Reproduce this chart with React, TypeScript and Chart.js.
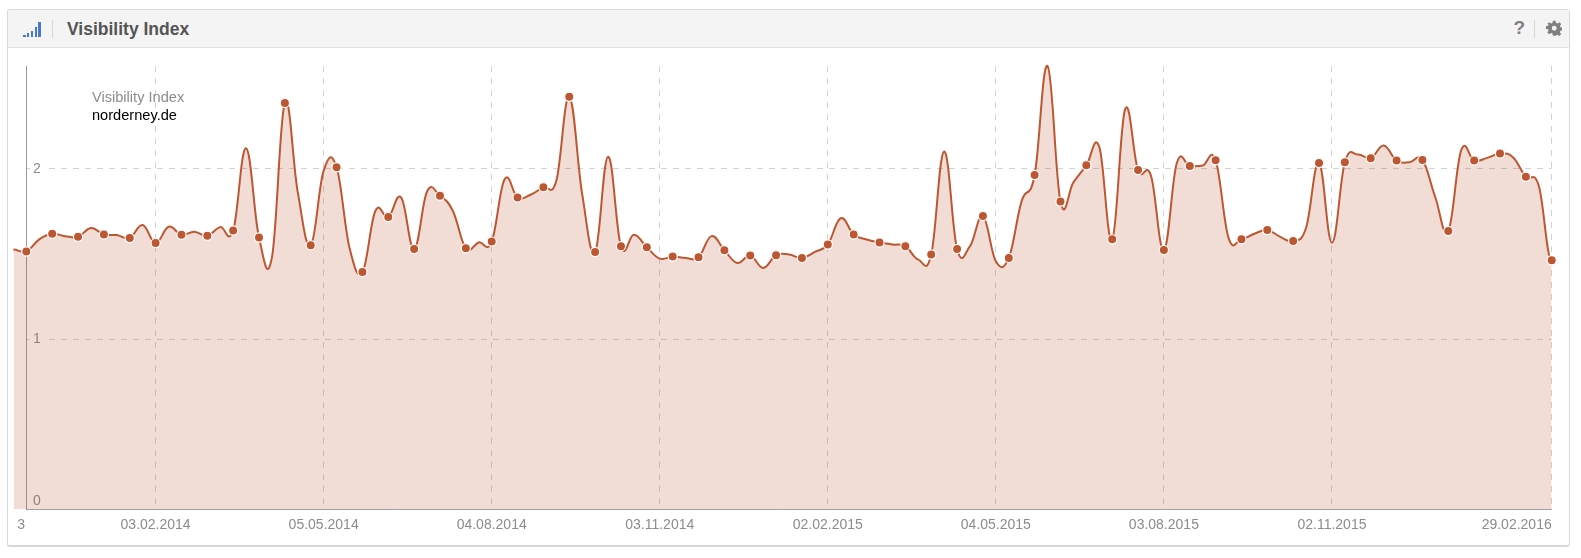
import React, { useEffect, useRef } from "react";
import { Chart, registerables } from "chart.js";

Chart.register(...registerables);

const categories: string[] = [
  "18.11.2013","25.11.2013","02.12.2013","09.12.2013","16.12.2013","23.12.2013","30.12.2013",
  "06.01.2014","13.01.2014","20.01.2014","27.01.2014","03.02.2014","10.02.2014","17.02.2014","24.02.2014",
  "03.03.2014","10.03.2014","17.03.2014","24.03.2014","31.03.2014","07.04.2014","14.04.2014","21.04.2014","28.04.2014",
  "05.05.2014","12.05.2014","19.05.2014","26.05.2014","02.06.2014","09.06.2014","16.06.2014","23.06.2014","30.06.2014",
  "07.07.2014","14.07.2014","21.07.2014","28.07.2014","04.08.2014","11.08.2014","18.08.2014","25.08.2014",
  "01.09.2014","08.09.2014","15.09.2014","22.09.2014","29.09.2014","06.10.2014","13.10.2014","20.10.2014","27.10.2014",
  "03.11.2014","10.11.2014","17.11.2014","24.11.2014","01.12.2014","08.12.2014","15.12.2014","22.12.2014","29.12.2014",
  "05.01.2015","12.01.2015","19.01.2015","26.01.2015","02.02.2015","09.02.2015","16.02.2015","23.02.2015",
  "02.03.2015","09.03.2015","16.03.2015","23.03.2015","30.03.2015","06.04.2015","13.04.2015","20.04.2015","27.04.2015",
  "04.05.2015","11.05.2015","18.05.2015","25.05.2015","01.06.2015","08.06.2015","15.06.2015","22.06.2015","29.06.2015",
  "06.07.2015","13.07.2015","20.07.2015","27.07.2015","03.08.2015","10.08.2015","17.08.2015","24.08.2015","31.08.2015",
  "07.09.2015","14.09.2015","21.09.2015","28.09.2015","05.10.2015","12.10.2015","19.10.2015","26.10.2015",
  "02.11.2015","09.11.2015","16.11.2015","23.11.2015","30.11.2015","07.12.2015","14.12.2015","21.12.2015","28.12.2015",
  "04.01.2016","11.01.2016","18.01.2016","25.01.2016","01.02.2016","08.02.2016","15.02.2016","22.02.2016","29.02.2016",
];

const visibility: number[] = [
  1.526,1.515,1.586,1.619,1.605,1.601,1.653,1.615,1.611,1.594,
  1.670,1.564,1.660,1.613,1.631,1.607,1.658,1.638,2.122,1.597,
  1.480,2.388,1.862,1.552,1.990,2.010,1.536,1.394,1.753,1.717,
  1.832,1.530,1.867,1.842,1.753,1.534,1.568,1.573,1.940,1.832,
  1.848,1.893,1.931,2.424,1.852,1.512,2.072,1.546,1.613,1.540,
  1.473,1.485,1.477,1.481,1.605,1.522,1.447,1.491,1.418,1.493,
  1.497,1.477,1.512,1.556,1.710,1.615,1.585,1.568,1.556,1.546,
  1.467,1.497,2.102,1.530,1.546,1.723,1.457,1.477,1.812,1.964,
  2.605,1.808,1.921,2.021,2.130,1.586,2.350,1.994,1.960,1.524,
  2.035,2.017,2.020,2.051,1.595,1.587,1.619,1.641,1.601,1.577,
  1.654,2.035,1.566,2.039,2.085,2.063,2.138,2.049,2.039,2.053,
  1.832,1.635,2.110,2.049,2.065,2.090,2.069,1.954,1.901,1.463,
];

const xTickIndices: number[] = [0, 11, 24, 37, 50, 63, 76, 89, 102, 119];
const xTickLabels: string[] = [" 3", "03.02.2014", "05.05.2014", "04.08.2014", "03.11.2014", "02.02.2015", "04.05.2015", "03.08.2015", "02.11.2015", "29.02.2016"];
const yTicks: number[] = [0, 1, 2];

const LINE = "#bd5731";
const FONT = "Arial, 'Liberation Sans', sans-serif";

// White-out of the grid left of the value axis, and the reference's spline tangents.
const referenceStyle = {
  id: "referenceStyle",
  beforeDraw(chart: any) {
    const line = chart.getDatasetMeta(0).dataset;
    line.updateControlPoints(chart.chartArea, "x");
    const pts = line.points;
    for (let i = 0; i < pts.length; i++) {
      const p = pts[i];
      const prev = pts[i - 1] || p;
      const next = pts[i + 1] || p;
      const slope = i > 0 && i < pts.length - 1 ? 0.2 * (next.y - prev.y) : 0;
      p.cp1x = p.x + 0.4 * (prev.x - p.x);
      p.cp1y = p.y - slope;
      p.cp2x = p.x + 0.4 * (next.x - p.x);
      p.cp2y = p.y + slope;
    }
  },
  beforeDatasetsDraw(chart: any) {
    const { ctx, chartArea, scales } = chart;
    const axisX = scales.x.getPixelForValue(1);
    ctx.save();
    ctx.fillStyle = "#fff";
    ctx.fillRect(chartArea.left - 1, chartArea.top, axisX - chartArea.left + 0.5, chartArea.bottom - chartArea.top + 2);
    ctx.restore();
  },
};

export default function App() {
  const ref = useRef<HTMLCanvasElement | null>(null);
  useEffect(() => {
    document.body.style.margin = "0";
    const chart = new Chart(ref.current as HTMLCanvasElement, {
      type: "line",
      data: {
        labels: categories,
        datasets: [
          {
            label: "norderney.de",
            data: visibility,
            borderColor: LINE,
            borderWidth: 2,
            backgroundColor: "rgba(189,87,49,0.2)",
            fill: "origin",
            tension: 0.4,
            pointBackgroundColor: LINE,
            pointBorderColor: "#fff",
            pointBorderWidth: 1.2,
            pointRadius: (c: any) => (c.dataIndex % 2 === 1 ? 4.6 : 0),
            clip: false as any,
          },
        ],
      },
      plugins: [referenceStyle],
      options: {
        responsive: false,
        animation: false,
        devicePixelRatio: 1,
        layout: { padding: { left: 13.4, right: 29.3, top: 66, bottom: 17 } },
        plugins: { legend: { display: false }, tooltip: { enabled: false } },
        scales: {
          x: {
            type: "category",
            afterBuildTicks: (s: any) => {
              s.ticks = xTickIndices.map((v) => ({ value: v }));
            },
            ticks: {
              autoSkip: false,
              maxRotation: 0,
              minRotation: 0,
              align: "inner",
              padding: 7.5,
              color: "#8c8c8c",
              font: { family: FONT, size: 14 },
              callback: (_v: any, i: number) => xTickLabels[i],
            },
            grid: {
              color: (c: any) => (c.index === 0 ? "rgba(0,0,0,0)" : "#d2d2d2"),
              tickLength: 0,
              drawTicks: false,
            },
            border: { display: true, color: "#a89e9a", dash: [6, 6], dashOffset: 0, width: 1 } as any,
          },
          y: {
            position: "left",
            min: 0,
            max: 2.605,
            afterBuildTicks: (s: any) => {
              s.ticks = yTicks.map((v) => ({ value: v }));
            },
            afterFit: (s: any) => {
              s.width = 0;
            },
            ticks: {
              mirror: true,
              padding: 19.5,
              color: "#8c8c8c",
              font: { family: FONT, size: 14 },
              showLabelBackdrop: (c: any) => c.index > 0,
              backdropColor: "#fff",
              backdropPadding: { top: 2, bottom: 2, left: 3, right: 4 },
              callback: (v: any) => (v === 0 ? ["0", ""] : String(v)),
            },
            grid: { color: "#d2d2d2", drawTicks: false, tickLength: 0 },
            border: { display: false, dash: [6, 6] },
          },
          axisLine: {
            type: "linear",
            axis: "y",
            position: { x: 1 } as any,
            min: 0,
            max: 2.605,
            ticks: { display: false },
            grid: { display: false },
            border: { display: true, color: "#999", width: 1 },
          } as any,
        },
      },
    } as any);
    return () => chart.destroy();
  }, []);

  return (
    <div style={{ position: "relative", width: 1581, height: 558, background: "#fff", fontFamily: FONT, overflow: "hidden" }}>
      <div style={{ position: "absolute", left: 7, top: 9, width: 1563, height: 538, boxSizing: "border-box", border: "1px solid #d8d8d8", borderBottomWidth: 2, borderRadius: 3 }} />
      <div style={{ position: "absolute", left: 8, top: 10, width: 1561, height: 37, background: "#f4f4f4", borderBottom: "1px solid #e2e2e2" }} />
      <div style={{ position: "absolute", left: 23, top: 21, width: 19, height: 16 }}>
        {[[0, 2.3], [3.9, 4], [7.7, 6], [11.5, 10], [15.3, 14.7]].map(([l, h], i) => (
          <div key={i} style={{ position: "absolute", left: l, bottom: 0, width: 2.6, height: h, background: "#4a78cc" }} />
        ))}
      </div>
      <div style={{ position: "absolute", left: 52, top: 20, width: 1, height: 18, background: "#d8d8d8" }} />
      <div style={{ position: "absolute", left: 67, top: 18, fontSize: 17.5, fontWeight: 700, color: "#555", lineHeight: "22px" }}>Visibility Index</div>
      <div style={{ position: "absolute", left: 1513.5, top: 17, fontSize: 19, fontWeight: 700, color: "#808080", lineHeight: "22px" }}>?</div>
      <div style={{ position: "absolute", left: 1534, top: 20, width: 1, height: 18, background: "#d8d8d8" }} />
      <svg style={{ position: "absolute", left: 1545.5, top: 19.5 }} width="16.5" height="16.5" viewBox="0 0 24 24">
        <path fill="#808080" fillRule="evenodd" d="M10 1h4l.6 3.2 2 .8 2.7-1.9 2.8 2.8-1.9 2.7.8 2 3 .6v4l-3 .6-.8 2 1.9 2.7-2.8 2.8-2.7-1.9-2 .8L14 23h-4l-.6-3.2-2-.8-2.7 1.9-2.8-2.8 1.9-2.7-.8-2-3-.4v-4l3-.6.8-2L1.9 5.9l2.8-2.8 2.7 1.9 2-.8L10 1zm2 7.5a3.5 3.5 0 1 0 0 7 3.5 3.5 0 0 0 0-7z" />
      </svg>
      <canvas ref={ref} width={1581} height={558} style={{ position: "absolute", left: 0, top: 0, display: "block" }} />
      <div style={{ position: "absolute", left: 92, top: 88, fontSize: 14.6, color: "#8c8c8c", lineHeight: "18px" }}>Visibility Index</div>
      <div style={{ position: "absolute", left: 92, top: 106, fontSize: 14.6, color: "#000", lineHeight: "18px" }}>norderney.de</div>
    </div>
  );
}
